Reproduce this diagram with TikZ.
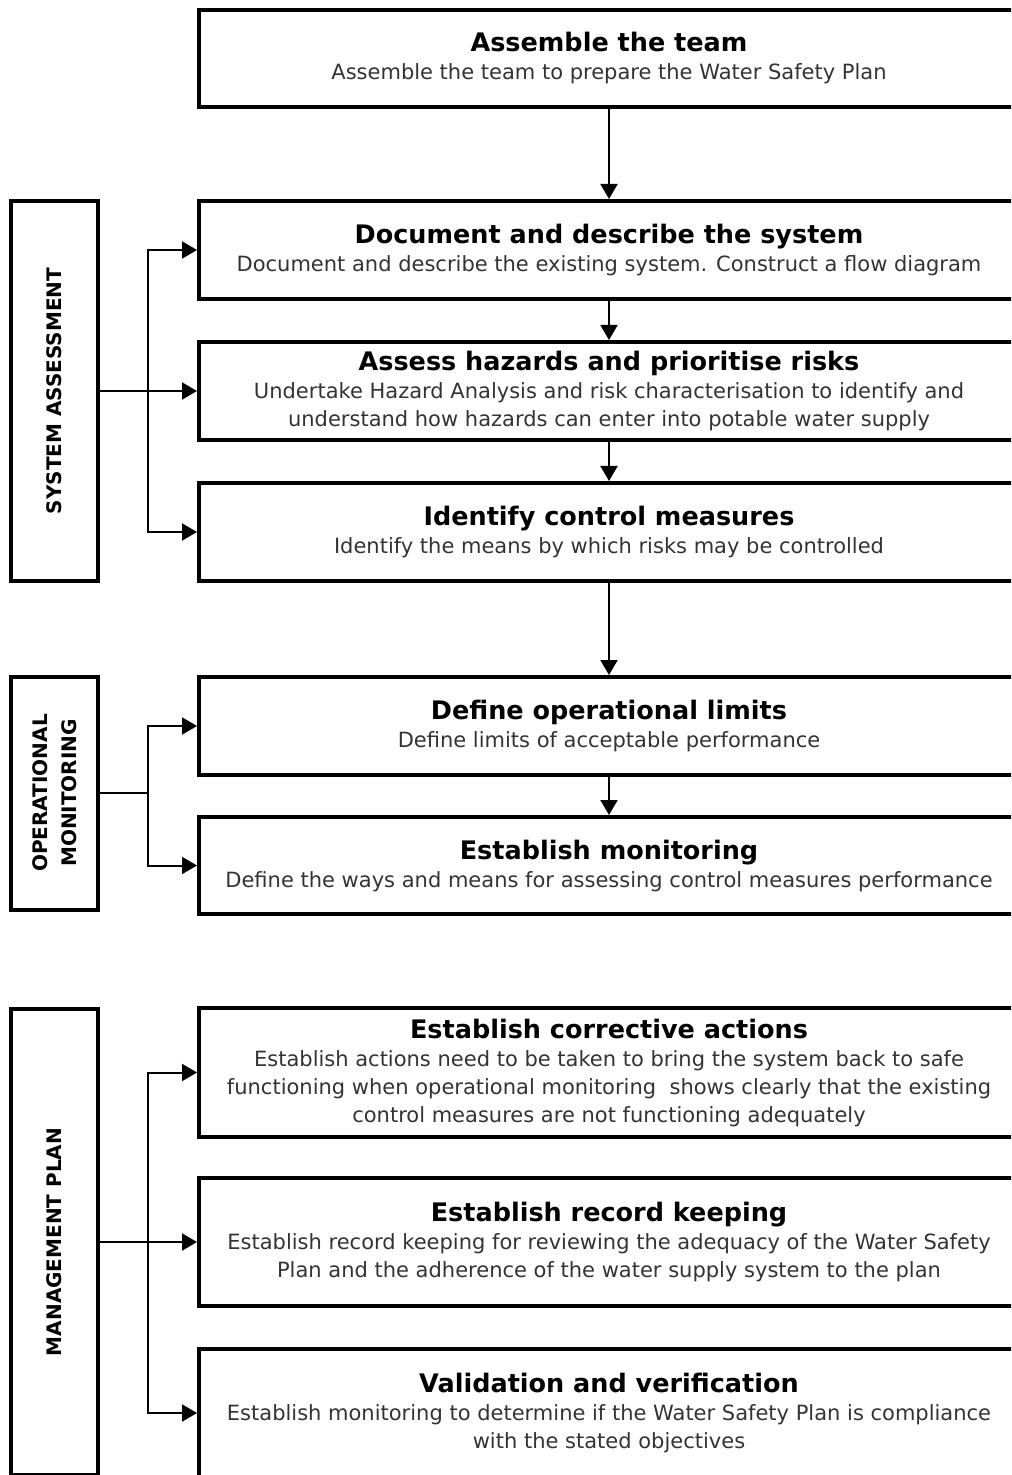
\documentclass[tikz,border=0pt]{standalone}
\usepackage{fontspec}
\setmainfont{DejaVu Sans}
\usetikzlibrary{arrows.meta}
\definecolor{bodygray}{HTML}{333333}
\newcommand{\steptitle}[1]{{\fontsize{12.75}{15}\selectfont\bfseries\color{black}#1}}
\begin{document}
\begin{tikzpicture}[x=0.5pt,y=-0.5pt]
\tikzstyle{stepbox}=[draw,line width=2pt,minimum width=410pt,inner sep=0pt,align=center,
  font=\fontsize{10.5}{14}\selectfont\color{bodygray}];
\tikzstyle{side}=[draw,line width=2pt,rotate=90,minimum height=43.5pt,inner sep=0pt,align=center,
  font=\fontsize{10}{14.5}\selectfont\bfseries];
\tikzstyle{flow}=[line width=1pt,-{Triangle[length=7.5pt,width=8.5pt]}];
\clip (0,0) rectangle (1011,1475);

% steps
\node [stepbox,minimum height=48.5pt] (v1) at (609,58.5) {\steptitle{Assemble the team}\\Assemble the team to prepare the Water Safety Plan};
\node [stepbox,minimum height=49pt] (v2) at (609,250) {\steptitle{Document and describe the system}\\Document and describe the existing system. Construct a flow diagram};
\node [stepbox,minimum height=49pt] (v3) at (609,391) {\steptitle{Assess hazards and prioritise risks}\\Undertake Hazard Analysis and risk characterisation to identify and\\understand how hazards can enter into potable water supply};
\node [stepbox,minimum height=49pt] (v4) at (609,532) {\steptitle{Identify control measures}\\Identify the means by which risks may be controlled};
\node [stepbox,minimum height=49pt] (v5) at (609,726) {\steptitle{Define operational limits}\\Define limits of acceptable performance};
\node [stepbox,minimum height=48.5pt] (v6) at (609,865.5) {\steptitle{Establish monitoring}\\Define the ways and means for assessing control measures performance};
\node [stepbox,minimum height=64.5pt] (v7) at (609,1072.5) {\steptitle{Establish corrective actions}\\Establish actions need to be taken to bring the system back to safe\\functioning when operational monitoring\ \ shows clearly that the existing\\control measures are not functioning adequately};
\node [stepbox,minimum height=64pt] (v8) at (609,1242) {\steptitle{Establish record keeping}\\Establish record keeping for reviewing the adequacy of the Water Safety\\Plan and the adherence of the water supply system to the plan};
\node [stepbox,minimum height=64pt] (v9) at (609,1413) {\steptitle{Validation and verification}\\Establish monitoring to determine if the Water Safety Plan is compliance\\with the stated objectives};

\draw [flow] (v1) -- (v2);
\draw [flow] (v2) -- (v3);
\draw [flow] (v3) -- (v4);
\draw [flow] (v4) -- (v5);
\draw [flow] (v5) -- (v6);

% phases
\node [side,minimum width=189.5pt] (a1) at (54.5,391) {SYSTEM ASSESSMENT};
\node [side,minimum width=116.5pt] (a2) at (54.5,793) {OPERATIONAL\\MONITORING};
\node [side,minimum width=233pt] (a3) at (54.5,1242) {MANAGEMENT PLAN};

\coordinate (b1) at (148,391);
\coordinate (b2) at (148,793);
\coordinate (b3) at (148,1242);

\draw [flow] (a1.south) -- (v3.west);
\draw [flow] (b1) |- (v2.west);
\draw [flow] (b1) |- (v4.west);

\draw [line width=1pt] (a2.south) -- (b2);
\draw [flow] (b2) |- (v5.west);
\draw [flow] (b2) |- (v6.west);

\draw [flow] (a3.south) -- (v8.west);
\draw [flow] (b3) |- (v7.west);
\draw [flow] (b3) |- (v9.west);
\end{tikzpicture}
\end{document}
